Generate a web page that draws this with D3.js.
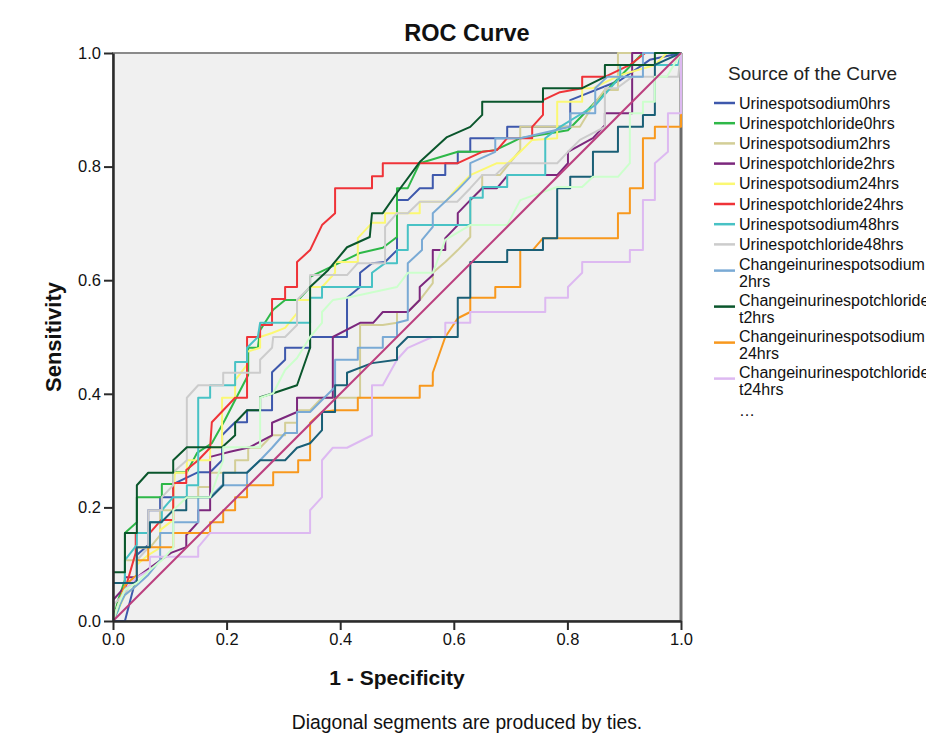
<!DOCTYPE html>
<html>
<head>
<meta charset="utf-8">
<script src="https://cdn.jsdelivr.net/npm/d3@7"></script>
<style>
  body { margin: 0; background: #fff; }
  svg { font-family: "Liberation Sans", Arial, sans-serif; }
</style>
</head>
<body>
<svg id="chart"></svg>
<script>
// axis ticks
const tickValues = [0, 0.2, 0.4, 0.6, 0.8, 1.0];

// legend labels (as wrapped in the original legend)
const legendNames = [
  ['Urinespotsodium0hrs'],
  ['Urinespotchloride0hrs'],
  ['Urinespotsodium2hrs'],
  ['Urinespotchloride2hrs'],
  ['Urinespotsodium24hrs'],
  ['Urinespotchloride24hrs'],
  ['Urinespotsodium48hrs'],
  ['Urinespotchloride48hrs'],
  ['Changeinurinespotsodium', '2hrs'],
  ['Changeinurinespotchloride', 't2hrs'],
  ['Changeinurinespotsodium', '24hrs'],
  ['Changeinurinespotchloride', 't24hrs']
];

// [1 - specificity, sensitivity]
const sodium0 = [[0,0],[0.021,0],[0.042,0.081],[0.042,0.116],[0.062,0.134],[0.062,0.195],[0.083,0.195],[0.083,0.218],[0.106,0.218],[0.106,0.241],[0.150,0.262],[0.171,0.262],[0.192,0.283],[0.192,0.327],[0.215,0.350],[0.236,0.350],[0.236,0.371],[0.280,0.371],[0.280,0.438],[0.303,0.460],[0.303,0.481],[0.347,0.481],[0.347,0.500],[0.412,0.500],[0.412,0.569],[0.435,0.588],[0.435,0.613],[0.456,0.630],[0.479,0.632],[0.500,0.653],[0.500,0.741],[0.519,0.741],[0.540,0.762],[0.563,0.762],[0.563,0.785],[0.585,0.785],[0.585,0.806],[0.607,0.806],[0.607,0.826],[0.629,0.826],[0.629,0.850],[0.694,0.850],[0.694,0.870],[0.717,0.870],[0.805,0.870],[0.805,0.917],[0.893,0.952],[0.945,0.988],[1,1]];

const chloride0 = [[0,0],[0.009,0.037],[0.021,0.072],[0.021,0.155],[0.042,0.174],[0.042,0.218],[0.086,0.218],[0.086,0.241],[0.106,0.241],[0.106,0.262],[0.130,0.262],[0.148,0.296],[0.174,0.313],[0.197,0.354],[0.215,0.389],[0.238,0.433],[0.238,0.481],[0.255,0.481],[0.259,0.512],[0.282,0.548],[0.303,0.565],[0.326,0.565],[0.347,0.588],[0.347,0.606],[0.435,0.648],[0.475,0.657],[0.500,0.676],[0.500,0.762],[0.519,0.762],[0.540,0.806],[0.607,0.826],[0.650,0.826],[0.673,0.829],[0.717,0.850],[0.801,0.864],[0.933,1],[1,1]];

const sodium2 = [[0,0],[0.009,0.028],[0.021,0.055],[0.021,0.107],[0.042,0.107],[0.042,0.129],[0.065,0.129],[0.083,0.151],[0.083,0.195],[0.106,0.195],[0.106,0.218],[0.150,0.218],[0.150,0.236],[0.171,0.236],[0.171,0.261],[0.215,0.261],[0.215,0.283],[0.238,0.283],[0.238,0.305],[0.259,0.305],[0.280,0.327],[0.303,0.327],[0.303,0.349],[0.324,0.349],[0.324,0.371],[0.347,0.371],[0.368,0.393],[0.435,0.393],[0.435,0.521],[0.475,0.521],[0.500,0.525],[0.500,0.544],[0.519,0.544],[0.540,0.565],[0.563,0.595],[0.563,0.613],[0.585,0.632],[0.607,0.653],[0.629,0.676],[0.629,0.741],[0.650,0.762],[0.650,0.785],[0.681,0.785],[0.717,0.829],[0.717,0.870],[0.822,0.870],[0.845,0.908],[0.866,0.935],[0.889,0.935],[0.889,1],[1,1]];

const chloride2 = [[0,0],[0,0.037],[0.021,0.060],[0.021,0.077],[0.042,0.077],[0.067,0.095],[0.102,0.120],[0.129,0.130],[0.129,0.151],[0.150,0.174],[0.150,0.195],[0.171,0.195],[0.171,0.289],[0.206,0.298],[0.241,0.306],[0.280,0.327],[0.280,0.349],[0.324,0.368],[0.324,0.393],[0.387,0.393],[0.387,0.500],[0.435,0.525],[0.458,0.525],[0.475,0.544],[0.519,0.544],[0.540,0.565],[0.540,0.588],[0.563,0.609],[0.563,0.653],[0.585,0.653],[0.585,0.674],[0.607,0.697],[0.607,0.718],[0.629,0.741],[0.650,0.762],[0.676,0.762],[0.695,0.785],[0.782,0.785],[0.801,0.806],[0.801,0.826],[0.845,0.850],[0.866,0.873],[0.866,0.894],[0.914,0.894],[0.914,1],[1,1]];

const sodium24 = [[0,0],[0.012,0.026],[0.021,0.046],[0.042,0.063],[0.042,0.099],[0.062,0.116],[0.083,0.129],[0.083,0.160],[0.106,0.178],[0.106,0.218],[0.109,0.261],[0.130,0.261],[0.130,0.283],[0.171,0.283],[0.171,0.306],[0.192,0.306],[0.192,0.393],[0.215,0.393],[0.215,0.424],[0.236,0.451],[0.236,0.474],[0.259,0.481],[0.259,0.500],[0.280,0.507],[0.303,0.516],[0.324,0.542],[0.324,0.565],[0.347,0.565],[0.347,0.588],[0.368,0.588],[0.391,0.613],[0.391,0.632],[0.431,0.632],[0.431,0.674],[0.456,0.701],[0.479,0.701],[0.479,0.718],[0.540,0.718],[0.540,0.738],[0.585,0.738],[0.606,0.762],[0.629,0.785],[0.676,0.806],[0.695,0.806],[0.717,0.826],[0.738,0.847],[0.782,0.850],[0.782,0.914],[0.826,0.914],[0.826,0.938],[0.845,0.938],[0.893,0.961],[0.954,0.979],[0.975,1],[1,1]];

const chloride24 = [[0,0],[0.009,0.023],[0.021,0.055],[0.026,0.072],[0.040,0.120],[0.040,0.155],[0.065,0.155],[0.085,0.178],[0.106,0.178],[0.106,0.243],[0.129,0.243],[0.129,0.266],[0.150,0.283],[0.171,0.305],[0.174,0.350],[0.215,0.393],[0.236,0.393],[0.236,0.500],[0.259,0.500],[0.259,0.521],[0.280,0.521],[0.280,0.567],[0.303,0.567],[0.303,0.588],[0.324,0.588],[0.324,0.632],[0.347,0.653],[0.368,0.697],[0.391,0.718],[0.391,0.762],[0.456,0.762],[0.456,0.783],[0.475,0.783],[0.475,0.806],[0.607,0.806],[0.650,0.826],[0.676,0.829],[0.694,0.850],[0.738,0.850],[0.738,0.870],[0.757,0.891],[0.757,0.917],[0.787,0.931],[0.826,0.938],[0.826,0.958],[0.866,0.958],[0.910,0.979],[0.937,1],[1,1]];

const sodium48 = [[0,0],[0.009,0.019],[0.021,0.055],[0.021,0.107],[0.042,0.134],[0.042,0.155],[0.065,0.155],[0.065,0.174],[0.086,0.174],[0.086,0.195],[0.106,0.218],[0.130,0.218],[0.130,0.239],[0.150,0.239],[0.150,0.393],[0.171,0.393],[0.171,0.415],[0.215,0.415],[0.215,0.456],[0.236,0.456],[0.236,0.481],[0.255,0.500],[0.259,0.525],[0.347,0.525],[0.347,0.569],[0.368,0.569],[0.368,0.588],[0.456,0.588],[0.456,0.613],[0.479,0.630],[0.500,0.630],[0.500,0.653],[0.519,0.653],[0.519,0.697],[0.629,0.697],[0.629,0.745],[0.651,0.745],[0.651,0.764],[0.694,0.764],[0.694,0.785],[0.761,0.785],[0.761,0.850],[0.787,0.870],[0.849,0.908],[0.893,0.958],[0.893,0.979],[0.995,0.979],[1,1]];

const chloride48 = [[0,0],[0,0.028],[0.021,0.049],[0.042,0.081],[0.042,0.107],[0.062,0.129],[0.062,0.195],[0.086,0.195],[0.086,0.218],[0.106,0.239],[0.106,0.262],[0.130,0.283],[0.130,0.393],[0.150,0.415],[0.194,0.415],[0.194,0.437],[0.259,0.437],[0.259,0.460],[0.280,0.481],[0.282,0.500],[0.303,0.500],[0.324,0.521],[0.324,0.565],[0.347,0.588],[0.347,0.609],[0.412,0.609],[0.431,0.630],[0.479,0.630],[0.479,0.694],[0.500,0.718],[0.519,0.718],[0.540,0.738],[0.606,0.738],[0.629,0.762],[0.650,0.785],[0.673,0.785],[0.695,0.806],[0.782,0.806],[0.801,0.826],[0.822,0.847],[0.866,0.870],[0.866,0.938],[0.887,0.938],[0.914,0.958],[0.995,0.958],[1,1]];

const changeSodium2 = [[0,0],[0.009,0.023],[0.021,0.046],[0.042,0.063],[0.062,0.081],[0.083,0.107],[0.083,0.155],[0.106,0.155],[0.106,0.174],[0.150,0.174],[0.150,0.218],[0.171,0.218],[0.192,0.239],[0.236,0.239],[0.236,0.262],[0.259,0.283],[0.280,0.305],[0.303,0.331],[0.324,0.331],[0.324,0.368],[0.347,0.368],[0.368,0.389],[0.391,0.412],[0.391,0.460],[0.431,0.460],[0.431,0.481],[0.475,0.481],[0.475,0.500],[0.500,0.500],[0.500,0.525],[0.519,0.530],[0.519,0.630],[0.544,0.653],[0.544,0.671],[0.563,0.694],[0.563,0.718],[0.607,0.759],[0.629,0.782],[0.629,0.806],[0.673,0.826],[0.673,0.850],[0.717,0.850],[0.805,0.870],[0.805,0.894],[0.849,0.894],[0.849,0.938],[0.870,0.958],[0.933,0.958],[0.933,1],[1,1]];

const changeChloride2 = [[0,0],[0,0.086],[0.021,0.086],[0.021,0.155],[0.042,0.155],[0.042,0.239],[0.062,0.261],[0.106,0.261],[0.106,0.283],[0.130,0.306],[0.192,0.306],[0.215,0.327],[0.215,0.349],[0.236,0.371],[0.259,0.371],[0.259,0.394],[0.282,0.401],[0.324,0.415],[0.347,0.481],[0.347,0.588],[0.379,0.618],[0.412,0.658],[0.452,0.676],[0.456,0.718],[0.475,0.718],[0.500,0.754],[0.540,0.808],[0.588,0.852],[0.629,0.870],[0.650,0.891],[0.650,0.914],[0.757,0.914],[0.757,0.938],[0.826,0.938],[0.866,0.958],[0.866,0.979],[0.954,0.979],[0.954,1],[1,1]];

const changeSodium24 = [[0,0],[0.012,0.037],[0.021,0.063],[0.042,0.081],[0.042,0.107],[0.062,0.107],[0.062,0.130],[0.106,0.130],[0.106,0.155],[0.171,0.155],[0.171,0.174],[0.194,0.174],[0.194,0.195],[0.215,0.195],[0.215,0.218],[0.236,0.218],[0.236,0.239],[0.282,0.239],[0.282,0.262],[0.326,0.262],[0.326,0.283],[0.347,0.283],[0.347,0.349],[0.368,0.368],[0.391,0.371],[0.431,0.371],[0.431,0.393],[0.540,0.393],[0.540,0.414],[0.563,0.414],[0.563,0.437],[0.585,0.500],[0.607,0.533],[0.629,0.544],[0.629,0.569],[0.673,0.569],[0.673,0.588],[0.717,0.588],[0.717,0.653],[0.739,0.653],[0.757,0.674],[0.889,0.674],[0.889,0.718],[0.910,0.718],[0.910,0.762],[0.933,0.762],[0.933,0.850],[0.954,0.850],[0.954,0.870],[1,0.870],[1,1]];

const changeChloride24 = [[0,0],[0.012,0.037],[0.021,0.055],[0.042,0.077],[0.065,0.090],[0.065,0.113],[0.150,0.113],[0.150,0.130],[0.171,0.155],[0.347,0.155],[0.347,0.195],[0.368,0.218],[0.368,0.283],[0.387,0.305],[0.412,0.305],[0.456,0.327],[0.456,0.415],[0.475,0.415],[0.500,0.460],[0.519,0.481],[0.562,0.500],[0.585,0.500],[0.585,0.525],[0.629,0.525],[0.629,0.544],[0.761,0.544],[0.761,0.569],[0.801,0.569],[0.801,0.588],[0.826,0.613],[0.826,0.632],[0.910,0.632],[0.910,0.653],[0.933,0.653],[0.933,0.741],[0.954,0.741],[0.954,0.806],[0.977,0.826],[0.977,0.894],[1,0.894],[1,1]];

// two further curves hidden behind the "..." legend entry
const hiddenTeal = [[0,0],[0,0.067],[0.042,0.067],[0.042,0.130],[0.065,0.130],[0.065,0.174],[0.085,0.174],[0.106,0.195],[0.129,0.195],[0.129,0.218],[0.173,0.218],[0.194,0.239],[0.194,0.261],[0.236,0.261],[0.259,0.283],[0.303,0.283],[0.324,0.305],[0.347,0.313],[0.368,0.336],[0.368,0.368],[0.391,0.368],[0.391,0.415],[0.412,0.415],[0.412,0.437],[0.456,0.454],[0.500,0.460],[0.500,0.481],[0.519,0.500],[0.607,0.500],[0.607,0.569],[0.629,0.569],[0.629,0.632],[0.694,0.632],[0.694,0.653],[0.757,0.653],[0.757,0.674],[0.782,0.674],[0.782,0.762],[0.805,0.762],[0.805,0.782],[0.845,0.782],[0.845,0.826],[0.889,0.826],[0.889,0.870],[0.933,0.870],[0.933,0.891],[0.954,0.891],[0.954,0.979],[1,1]];

const hiddenPaleGreen = [[0,0],[0.009,0.028],[0.021,0.055],[0.042,0.067],[0.065,0.090],[0.086,0.107],[0.106,0.129],[0.106,0.195],[0.130,0.218],[0.171,0.218],[0.194,0.283],[0.194,0.306],[0.259,0.306],[0.259,0.393],[0.282,0.401],[0.303,0.442],[0.324,0.463],[0.347,0.500],[0.368,0.525],[0.368,0.544],[0.387,0.565],[0.412,0.569],[0.500,0.588],[0.519,0.613],[0.563,0.613],[0.585,0.671],[0.629,0.697],[0.694,0.697],[0.717,0.741],[0.782,0.764],[0.826,0.764],[0.845,0.782],[0.889,0.782],[0.910,0.806],[0.910,0.894],[0.933,0.894],[0.933,0.914],[0.954,0.914],[0.954,0.958],[0.975,0.958],[1,1]];

const referenceLine = [[0,0],[1,1]];

const curves = [sodium0, chloride0, sodium2, chloride2, sodium24, chloride24,
  sodium48, chloride48, changeSodium2, changeChloride2, changeSodium24, changeChloride24,
  hiddenTeal, hiddenPaleGreen];

// SPSS default line colours, same order as the curves
const palette = ['#3e58ac', '#2eb848', '#d3ce97', '#7c287d', '#fbf873', '#ef3338',
  '#48c2c5', '#cccccc', '#7aaad5', '#0a562c', '#f8981d', '#ddb9f1',
  '#1a5f76', '#ccffcc'];
const refColor = '#bb3f7f';

const svg = d3.select('#chart')
  .attr('width', 936)
  .attr('height', 750);

const x = d3.scaleLinear().domain([0, 1]).range([113, 681]);
const y = d3.scaleLinear().domain([0, 1]).range([621, 53]);

// plot background + frame
svg.append('rect')
  .attr('x', x(0)).attr('y', y(1))
  .attr('width', x(1) - x(0)).attr('height', y(0) - y(1))
  .attr('fill', '#f0f0f0')
  .attr('stroke', '#8a8a8a')
  .attr('stroke-width', 2);
svg.append('line')
  .attr('x1', x(1)).attr('x2', x(1)).attr('y1', y(1)).attr('y2', y(0))
  .attr('stroke', '#6a6a6a').attr('stroke-width', 3);

const line = d3.line()
  .x(d => x(d[0]))
  .y(d => y(d[1]));

svg.append('defs').append('clipPath').attr('id', 'plotclip')
  .append('rect')
  .attr('x', x(0)).attr('y', y(1) - 1)
  .attr('width', x(1) - x(0) + 1).attr('height', y(0) - y(1) + 2);

const lines = svg.append('g').attr('clip-path', 'url(#plotclip)');
lines.selectAll('path.curve')
  .data(curves)
  .enter()
  .append('path')
  .attr('class', 'curve')
  .attr('d', line)
  .attr('fill', 'none')
  .attr('stroke', (d, i) => palette[i])
  .attr('stroke-width', 2)
  .attr('stroke-linejoin', 'round');

lines.append('path')
  .datum(referenceLine)
  .attr('d', line)
  .attr('fill', 'none')
  .attr('stroke', refColor)
  .attr('stroke-width', 2);

// axes
const xAxis = svg.append('g')
  .attr('transform', `translate(0,${y(0)})`)
  .call(d3.axisBottom(x).tickValues(tickValues).tickFormat(d3.format('.1f'))
    .tickSize(9).tickSizeOuter(0).tickPadding(3));
const yAxis = svg.append('g')
  .attr('transform', `translate(${x(0)},0)`)
  .call(d3.axisLeft(y).tickValues(tickValues).tickFormat(d3.format('.1f'))
    .tickSize(9).tickSizeOuter(0).tickPadding(3));

[xAxis, yAxis].forEach(ax => {
  ax.select('.domain').attr('stroke', '#2b2b2b').attr('stroke-width', 2.5);
  ax.selectAll('.tick line').attr('stroke', '#2b2b2b').attr('stroke-width', 2);
  ax.selectAll('.tick text')
    .attr('fill', '#111')
    .style('font-family', '"Liberation Sans", Arial, sans-serif')
    .style('font-size', '16.5px');
});

// titles
svg.append('text')
  .attr('x', 467).attr('y', 41)
  .attr('text-anchor', 'middle')
  .attr('font-weight', 'bold')
  .attr('font-size', 23.5)
  .attr('fill', '#111')
  .text('ROC Curve');

svg.append('text')
  .attr('transform', 'translate(61,337) rotate(-90)')
  .attr('text-anchor', 'middle')
  .attr('font-weight', 'bold')
  .attr('font-size', 22)
  .attr('fill', '#111')
  .text('Sensitivity');

svg.append('text')
  .attr('x', 397).attr('y', 685)
  .attr('text-anchor', 'middle')
  .attr('font-weight', 'bold')
  .attr('font-size', 21)
  .attr('fill', '#111')
  .text('1 - Specificity');

svg.append('text')
  .attr('x', 467).attr('y', 729)
  .attr('text-anchor', 'middle')
  .attr('font-size', 19.3)
  .attr('fill', '#111')
  .text('Diagonal segments are produced by ties.');

// legend
svg.append('defs').append('clipPath').attr('id', 'legclip')
  .append('rect').attr('x', 700).attr('y', 40).attr('width', 226).attr('height', 420);

const legend = svg.append('g').attr('clip-path', 'url(#legclip)');

legend.append('text')
  .attr('x', 728).attr('y', 80)
  .attr('font-size', 19)
  .attr('fill', '#222')
  .text('Source of the Curve');

let rowY = 103;
legendNames.forEach((lines, i) => {
  const g = legend.append('g');
  const swY = lines.length > 1 ? rowY + 6 : rowY;
  g.append('line')
    .attr('x1', 714).attr('x2', 735)
    .attr('y1', swY).attr('y2', swY)
    .attr('stroke', palette[i]).attr('stroke-width', 2.5);
  lines.forEach((t, k) => {
    g.append('text')
      .attr('x', 739).attr('y', rowY + k * 16.5)
      .attr('dy', '0.35em')
      .attr('font-size', 16)
      .attr('fill', '#111')
      .text(t);
  });
  rowY += lines.length > 1 ? 36 : 20.2;
});

legend.append('text')
  .attr('x', 739).attr('y', rowY + 2)
  .attr('dy', '0.35em')
  .attr('font-size', 16)
  .attr('fill', '#111')
  .text('…');
</script>
</body>
</html>
